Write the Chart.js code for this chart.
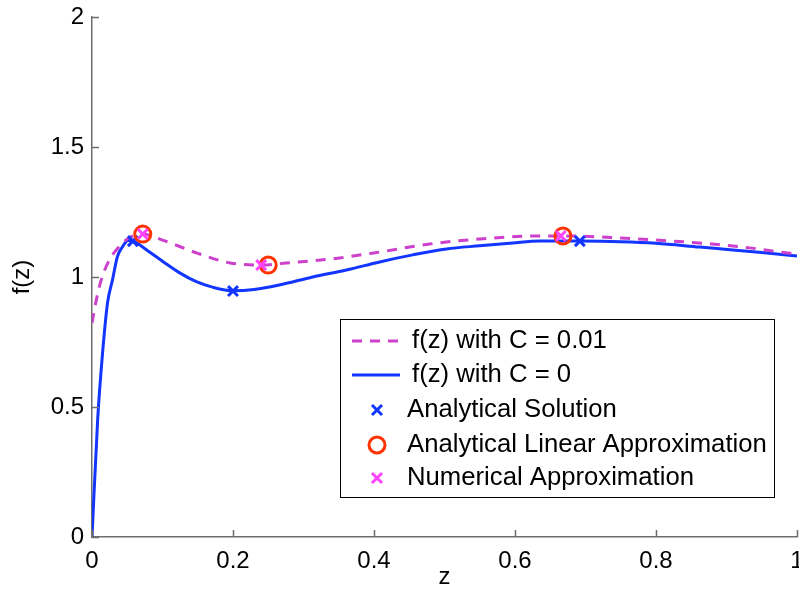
<!DOCTYPE html>
<html>
<head>
<meta charset="utf-8">
<script src="https://cdn.jsdelivr.net/npm/chart.js@4.4.0/dist/chart.umd.min.js"></script>
<style>
html,body{margin:0;padding:0;background:#fff;}
#wrap{width:799px;height:598px;position:relative;}
</style>
</head>
<body>
<div id="wrap"><canvas id="c" width="799" height="598"></canvas></div>
<script>
// ---- data ----
const zBlue = [0, 0.008, 0.015, 0.022, 0.029, 0.036, 0.0435, 0.051, 0.058, 0.0776, 0.101, 0.125, 0.148, 0.172, 0.2, 0.23, 0.267, 0.313, 0.361, 0.408, 0.455, 0.503, 0.55, 0.597, 0.635, 0.692, 0.75, 0.8, 0.862, 0.909, 0.957, 1];
const fBlue = [0, 0.45, 0.708, 0.9, 0.988, 1.078, 1.117, 1.14, 1.138, 1.104, 1.059, 1.015, 0.982, 0.96, 0.947, 0.952, 0.97, 1.0, 1.027, 1.058, 1.085, 1.108, 1.12, 1.131, 1.138, 1.138, 1.136, 1.13, 1.115, 1.104, 1.092, 1.081];

const zMag = [0, 0.006, 0.013, 0.0245, 0.038, 0.052, 0.072, 0.1, 0.149, 0.196, 0.24, 0.276, 0.338, 0.408, 0.479, 0.55, 0.635, 0.668, 0.75, 0.8, 0.88, 0.933, 0.99, 1];
const fMag = [0.823, 0.91, 0.988, 1.065, 1.115, 1.15, 1.165, 1.142, 1.092, 1.054, 1.046, 1.054, 1.069, 1.096, 1.127, 1.146, 1.158, 1.158, 1.15, 1.142, 1.127, 1.112, 1.091, 1.088];

const anaZ = [0.058, 0.2, 0.692];
const anaF = [1.138, 0.946, 1.138];
const linZ = [0.072, 0.25, 0.668];
const linF = [1.165, 1.046, 1.158];
const numZ = [0.072, 0.24, 0.665];
const numF = [1.165, 1.046, 1.158];

const xTicks = [0, 0.2, 0.4, 0.6, 0.8, 1];
const yTicks = [0, 0.5, 1, 1.5, 2];
const seriesLabels = ['f(z) with C = 0.01', 'f(z) with C = 0', 'Analytical Solution', 'Analytical Linear Approximation', 'Numerical Approximation'];

const pts = (xs, ys) => xs.map((x, i) => ({x: x, y: ys[i]}));
const FONT = '"Liberation Sans", Arial, Helvetica, sans-serif';
const FS = 24;
const LFS = 25.7;

const axisColor = '#6e6e6e';
const fmt = v => String(+Number(v).toFixed(2));

const inwardTicks = {
  id: 'inwardTicks',
  afterDraw(chart) {
    const ctx = chart.ctx, a = chart.chartArea;
    const xs = chart.scales.x, ys = chart.scales.y;
    ctx.save();
    ctx.strokeStyle = axisColor;
    ctx.lineWidth = 1.5;
    ctx.beginPath();
    xTicks.forEach(v => { const px = Math.round(xs.getPixelForValue(v)) + 0.5; ctx.moveTo(px, a.bottom); ctx.lineTo(px, a.bottom - 7); });
    yTicks.forEach(v => { const py = Math.round(ys.getPixelForValue(v)) + 0.5; ctx.moveTo(a.left, py); ctx.lineTo(a.left + 7, py); });
    ctx.stroke();
    ctx.restore();
  }
};

const boxLegend = {
  id: 'boxLegend',
  afterDraw(chart) {
    const ctx = chart.ctx, a = chart.chartArea;
    const L = a.left + 248, T = a.top + 302, W = 434, H = 178;
    ctx.save();
    ctx.fillStyle = '#fff';
    ctx.fillRect(L, T, W, H);
    ctx.strokeStyle = '#000';
    ctx.lineWidth = 1;
    ctx.strokeRect(L + 0.5, T + 0.5, W, H);
    const rowY = [22, 56, 91, 126, 159];
    ctx.font = LFS + 'px ' + FONT;
    ctx.textBaseline = 'middle';
    ctx.fillStyle = '#000';
    const dsOrder = [0, 1, 2, 3, 4];
    dsOrder.forEach((di, r) => {
      const ds = chart.data.datasets[di];
      const y = T + rowY[r];
      if (ds.showLine) {
        ctx.save();
        ctx.strokeStyle = ds.borderColor;
        ctx.lineWidth = ds.borderWidth;
        ctx.setLineDash(ds.borderDash || []);
        ctx.beginPath();
        ctx.moveTo(L + 12, y); ctx.lineTo(L + 60, y);
        ctx.stroke();
        ctx.restore();
        ctx.fillText(seriesLabels[r], L + 72, y);
      } else {
        const cx = L + 37;
        ctx.save();
        ctx.strokeStyle = ds.pointBorderColor;
        ctx.lineWidth = ds.pointBorderWidth;
        ctx.beginPath();
        if (ds.pointStyle === 'circle') {
          ctx.arc(cx, y, ds.pointRadius, 0, Math.PI * 2);
        } else {
          const d = ds.pointRadius * 0.72;
          ctx.moveTo(cx - d, y - d); ctx.lineTo(cx + d, y + d);
          ctx.moveTo(cx - d, y + d); ctx.lineTo(cx + d, y - d);
        }
        ctx.stroke();
        ctx.restore();
        ctx.fillText(seriesLabels[r], L + 67, y);
      }
    });
    ctx.restore();
  }
};

new Chart(document.getElementById('c'), {
  type: 'scatter',
  data: {
    datasets: [
      { label: seriesLabels[0], data: pts(zMag, fMag), showLine: true, borderColor: '#cc40cc', borderWidth: 3, borderDash: [10, 8], pointRadius: 0, cubicInterpolationMode: 'monotone', order: 4 },
      { label: seriesLabels[1], data: pts(zBlue, fBlue), showLine: true, borderColor: '#1236ff', borderWidth: 3, pointRadius: 0, cubicInterpolationMode: 'monotone', order: 5 },
      { label: seriesLabels[2], data: pts(anaZ, anaF), showLine: false, pointStyle: 'crossRot', pointRadius: 7, pointBorderWidth: 3, pointBorderColor: '#1236ff', pointBackgroundColor: '#1236ff', order: 3 },
      { label: seriesLabels[3], data: pts(linZ, linF), showLine: false, pointStyle: 'circle', pointRadius: 8, pointBorderWidth: 3, pointBorderColor: '#ff3300', pointBackgroundColor: 'rgba(0,0,0,0)', order: 2 },
      { label: seriesLabels[4], data: pts(numZ, numF), showLine: false, pointStyle: 'crossRot', pointRadius: 7, pointBorderWidth: 3, pointBorderColor: '#ff44ff', pointBackgroundColor: '#ff44ff', order: 1 }
    ]
  },
  options: {
    responsive: false,
    animation: false,
    layout: { autoPadding: false, padding: { top: 17, right: 2, left: 0, bottom: 0 } },
    plugins: { legend: { display: false }, tooltip: { enabled: false } },
    scales: {
      x: {
        type: 'linear', min: 0, max: 1,
        afterBuildTicks: s => { s.ticks = xTicks.map(v => ({ value: v })); },
        afterFit: s => { s.height = 61; s.paddingLeft = 0; s.paddingRight = 0; },
        grid: { display: false, drawTicks: false },
        border: { display: true, color: axisColor, width: 1.5 },
        ticks: { padding: 10, color: '#000', font: { family: FONT, size: FS }, maxRotation: 0, callback: fmt },
        title: { display: true, text: 'z', color: '#000', font: { family: FONT, size: FS }, padding: { top: 0, bottom: 6 } }
      },
      y: {
        type: 'linear', min: 0, max: 2,
        afterBuildTicks: s => { s.ticks = yTicks.map(v => ({ value: v })); },
        afterFit: s => { s.width = 92; s.paddingTop = 0; s.paddingBottom = 0; },
        grid: { display: false, drawTicks: false },
        border: { display: true, color: axisColor, width: 1.5 },
        ticks: { padding: 8, color: '#000', font: { family: FONT, size: FS }, callback: fmt },
        title: { display: true, text: 'f(z)', color: '#000', font: { family: FONT, size: FS }, padding: { top: 8, bottom: 0 } }
      }
    }
  },
  plugins: [inwardTicks, boxLegend]
});
</script>
</body>
</html>
